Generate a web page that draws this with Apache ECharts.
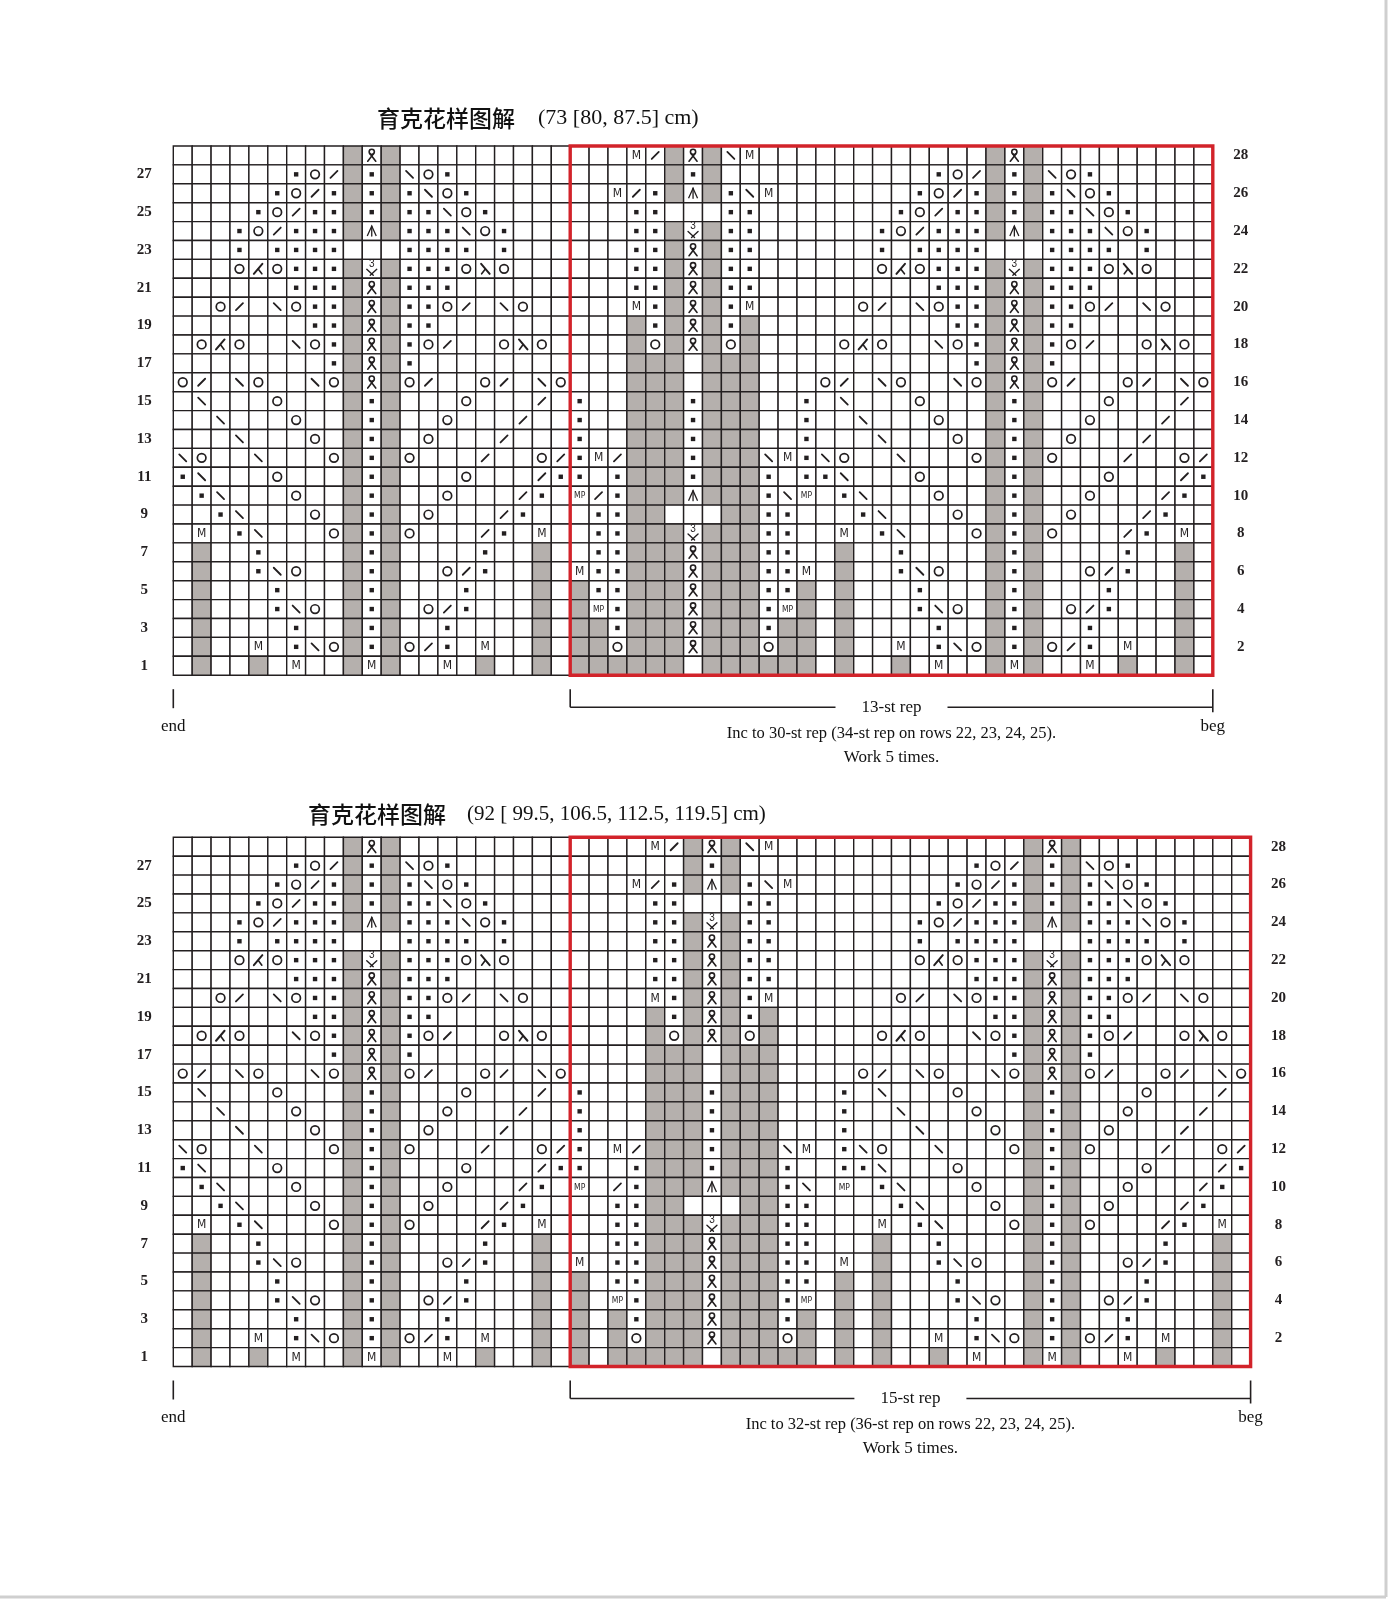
<!DOCTYPE html>
<html>
<head>
<meta charset="utf-8">
<script src="https://cdn.jsdelivr.net/npm/echarts@6/dist/echarts.min.js"></script>
<style>
html,body{margin:0;padding:0;background:#fff}
#chart{width:1389px;height:1609px}
</style>
</head>
<body>
<div id="chart"></div>
<script>
// chart rows, listed from row 28 (top) down to row 1
// . blank  G no stitch  p purl  o yo  f k2tog  b ssk  M m1  P mp
// A cdd  K k3tog  S sssk  R twisted  3 three-in-one
const rowNumbers = ['1','2','3','4','5','6','7','8','9','10','11','12','13','14',
  '15','16','17','18','19','20','21','22','23','24','25','26','27','28'];

const motifB = [
  '.........GRG.........',
  '......pofGpGbop......',
  '.....pofpGpGpbop.....',
  '....pofppGpGppbop....',
  '...pofpppGAGpppbop...',
  '...p.pppp...pppp.p...',
  '...oKopppG3GpppoSo...',
  '......pppGRGppp......',
  '..of.boppGRGppof.bo..',
  '.......ppGRGpp.......',
  '.oKo..bopGRGpof..oSo.',
  '........pGRGp........',
  'of.bo..boGRGof..of.bo',
  '.b...o...GpG...o...f.',
  '..b...o..GpG..o...f..',
  '...b...o.GpG.o...f...',
  'bo..b...oGpGo...f..of',
  'pb...o...GpG...o...fp',
  '.pb...o..GpG..o...fp.',
  '..pb...o.GpG.o...fp..',
  '.M.pb...oGpGo...fp.M.',
  '.G..p....GpG....p..G.',
  '.G..pbo..GpG..ofp..G.',
  '.G...p...GpG...p...G.',
  '.G...pbo.GpG.ofp...G.',
  '.G....p..GpG..p....G.',
  '.G..M.pboGpGofp.M..G.',
  '.G..G.M..GMG..M.G..G.'
];

const motifA13 = [
  '...MfGRGbM...',
  '.....GpG.....',
  '..MfpGAGpbM..',
  '...pp...pp...',
  '...ppG3Gpp...',
  '...ppGRGpp...',
  '...ppGRGpp...',
  '...ppGRGpp...',
  '...MpGRGpM...',
  '...GpGRGpG...',
  '...GoGRGoG...',
  '...GGG.GGG...',
  '...GGG.GGG...',
  'p..GGGpGGG..p',
  'p..GGGpGGG..p',
  'p..GGGpGGG..p',
  'pMfGGGpGGGbMp',
  'p.pGGGpGGGp.p',
  'PfpGGGAGGGpbP',
  '.ppGG...GGpp.',
  '.ppGGG3GGGpp.',
  '.ppGGGRGGGpp.',
  'MppGGGRGGGppM',
  'GppGGGRGGGppG',
  'GPpGGGRGGGpPG',
  'GGpGGGRGGGpGG',
  'GGoGGGRGGGoGG',
  'GGGGGG.GGGGGG'
];

const motifA15 = [
  '....MfGRGbM....',
  '......GpG......',
  '...MfpGAGpbM...',
  '....pp...pp....',
  '....ppG3Gpp....',
  '....ppGRGpp....',
  '....ppGRGpp....',
  '....ppGRGpp....',
  '....MpGRGpM....',
  '....GpGRGpG....',
  '....GoGRGoG....',
  '....GGG.GGG....',
  '....GGG.GGG....',
  'p...GGGpGGG...p',
  'p...GGGpGGG...p',
  'p...GGGpGGG...p',
  'p.MfGGGpGGGbM.p',
  'p..pGGGpGGGp..p',
  'P.fpGGGAGGGpb.P',
  '..ppGG...GGpp..',
  '..ppGGG3GGGpp..',
  '..ppGGGRGGGpp..',
  'M.ppGGGRGGGpp.M',
  'G.ppGGGRGGGpp.G',
  'G.PpGGGRGGGpP.G',
  'G.GpGGGRGGGpG.G',
  'G.GoGGGRGGGoG.G',
  'G.GGGGG.GGGGG.G'
];

const titleCn = '育克花样图解';
const topSizes = '(73 [80, 87.5] cm)';
const bottomSizes = '(92 [ 99.5, 106.5, 112.5, 119.5] cm)';
const topRepLabel = '13-st rep';
const bottomRepLabel = '15-st rep';
const topNote = 'Inc to 30-st rep (34-st rep on rows 22, 23, 24, 25).';
const bottomNote = 'Inc to 32-st rep (36-st rep on rows 22, 23, 24, 25).';
const workNote = 'Work 5 times.';

const INK = '#231f20';
const GRAY = '#b5b0ad';
const RED = '#d2232a';
const CELL = 18.9;
const LEFT = 173.3;
const TOP1 = 146;
const TOP2 = 837.3;
const SERIF = '"Liberation Serif", "DejaVu Serif", serif';

function buildRows(parts) {
  return parts[0].map(function (_, i) {
    return parts.map(function (p) { return p[i]; }).join('');
  });
}

function cellData(rows) {
  const data = [], codes = [];
  rows.forEach(function (line, i) {
    const y = rows.length - 1 - i;
    for (let x = 0; x < line.length; x++) {
      data.push([x, y]);
      codes.push(line[x]);
    }
  });
  return {data: data, codes: codes};
}

const topRows = buildRows([motifB, motifA13, motifB]);
const bottomRows = buildRows([motifB, motifA15, motifB]);
const topCells = cellData(topRows);
const bottomCells = cellData(bottomRows);
const topRep = [motifB[0].length, topRows[0].length - 1];
const bottomRep = [motifB[0].length, bottomRows[0].length - 1];

function glyph(ch, cx, cy) {
  const ln = function (x1, y1, x2, y2, lw) {
    return {type: 'line', shape: {x1: cx + x1, y1: cy + y1, x2: cx + x2, y2: cy + y2},
      style: {stroke: INK, lineWidth: lw || 1.8, lineCap: 'round'}};
  };
  const tx = function (t, size, dy, fam) {
    return {type: 'text', style: {text: t, x: cx, y: cy + (dy || 0), align: 'center', verticalAlign: 'middle',
      fontSize: size, fontFamily: fam || '"DejaVu Sans Condensed", "DejaVu Sans", sans-serif', fill: INK}};
  };
  switch (ch) {
    case 'p': return [{type: 'rect', shape: {x: cx - 2.2, y: cy - 2.2, width: 4.4, height: 4.4}, style: {fill: INK}}];
    case 'o': return [{type: 'circle', shape: {cx: cx, cy: cy, r: 4.3}, style: {fill: 'none', stroke: INK, lineWidth: 1.7}}];
    case 'f': return [ln(-3.5, 3.5, 3.5, -3.5)];
    case 'b': return [ln(-3.5, -3.5, 3.5, 3.5)];
    case 'M': return [tx('M', 12, 0.5)];
    case 'P': return [tx('MP', 8.5, 0.5)];
    case 'A': return [{type: 'polyline', shape: {points: [[cx - 4.5, cy + 5], [cx, cy - 5], [cx + 4.5, cy + 5]]},
      style: {stroke: INK, lineWidth: 1.3, fill: 'none'}}, ln(0, -5, 0, 5, 1.3)];
    case 'K': return [ln(4, -5, -4.5, 5, 2), ln(0, 0.3, 3.5, 5, 1.6)];
    case 'S': return [ln(-4, -5, 4.5, 5, 2), ln(0, 0.3, -3.5, 5, 1.6)];
    case 'R': return [{type: 'circle', shape: {cx: cx, cy: cy - 3.6, r: 2.6}, style: {fill: 'none', stroke: INK, lineWidth: 1.6}},
      ln(-1.6, -1.4, 4, 5.8, 1.6), ln(1.6, -1.4, -4, 5.8, 1.6)];
    case '3': return [tx('3', 10, -4.5, '"Liberation Sans", sans-serif'), ln(-5, 0.5, 1.5, 6.5, 1.4), ln(5, 0.5, -1.5, 6.5, 1.4)];
  }
  return [];
}

function makeCells(codes) {
  return function (params, api) {
    const c = api.coord([api.value(0), api.value(1)]);
    const s = api.size([1, 1]);
    const ch = codes[params.dataIndex];
    const children = [{
      type: 'rect',
      shape: {x: c[0] - s[0] / 2, y: c[1] - s[1] / 2, width: s[0], height: s[1]},
      style: {fill: ch === 'G' ? GRAY : '#fff', stroke: INK, lineWidth: 1.4}
    }].concat(glyph(ch, c[0], c[1]));
    return {type: 'group', children: children};
  };
}

function makeRepBox(rep, nRows) {
  return function (params, api) {
    const a = api.coord([rep[0], nRows - 1]);
    const b = api.coord([rep[1], 0]);
    const s = api.size([1, 1]);
    return {type: 'rect',
      shape: {x: a[0] - s[0] / 2, y: a[1] - s[1] / 2, width: b[0] - a[0] + s[0], height: b[1] - a[1] + s[1]},
      style: {fill: 'none', stroke: RED, lineWidth: 3.4}};
  };
}

function yAxes(gridIndex) {
  const label = {interval: 0, fontFamily: SERIF, fontWeight: 'bold', fontSize: 15, color: INK, align: 'center'};
  const hidden = {axisLine: {show: false}, axisTick: {show: false}, splitLine: {show: false}};
  return [
    Object.assign({type: 'category', gridIndex: gridIndex, data: rowNumbers, position: 'left',
      axisLabel: Object.assign({margin: 29, formatter: function (v) { return (+v) % 2 ? v : ''; }}, label)}, hidden),
    Object.assign({type: 'category', gridIndex: gridIndex, data: rowNumbers, position: 'right',
      axisLabel: Object.assign({margin: 28, formatter: function (v) { return (+v) % 2 ? '' : v; }}, label)}, hidden)
  ];
}

function annotations(gridBottom, repRight, repLabel, note) {
  const repLeft = LEFT + topRep[0] * CELL;
  const mid = (repLeft + repRight) / 2;
  const line = function (x1, y1, x2, y2) {
    return {type: 'line', shape: {x1: x1, y1: y1, x2: x2, y2: y2}, style: {stroke: INK, lineWidth: 1.6}};
  };
  const text = function (t, x, y, size) {
    return {type: 'text', x: x, y: y, style: {text: t, align: 'center', verticalAlign: 'middle',
      fontFamily: SERIF, fontSize: size || 17, fill: '#111'}};
  };
  return [
    line(LEFT, gridBottom + 14, LEFT, gridBottom + 33),
    line(repLeft, gridBottom + 14, repLeft, gridBottom + 32),
    line(repLeft, gridBottom + 32, mid - 56, gridBottom + 32),
    line(mid + 56, gridBottom + 32, repRight, gridBottom + 32),
    line(repRight, gridBottom + 14, repRight, gridBottom + 37),
    text(repLabel, mid, gridBottom + 32),
    text('end', LEFT, gridBottom + 51),
    text('beg', repRight, gridBottom + 51),
    text(note, mid, gridBottom + 58, 16.5),
    text(workNote, mid, gridBottom + 82)
  ];
}

const topW = topRows[0].length * CELL;
const bottomW = bottomRows[0].length * CELL;
const gridH = rowNumbers.length * CELL;

const chart = echarts.init(document.getElementById('chart'), null, {renderer: 'canvas'});
const option = {
  animation: false,
  backgroundColor: '#fff',
  grid: [
    {left: LEFT, top: TOP1, width: topW, height: gridH, outerBoundsMode: 'none'},
    {left: LEFT, top: TOP2, width: bottomW, height: gridH, outerBoundsMode: 'none'}
  ],
  xAxis: [
    {type: 'category', gridIndex: 0, show: false, data: topRows[0].split('').map(function (_, i) { return i + 1; })},
    {type: 'category', gridIndex: 1, show: false, data: bottomRows[0].split('').map(function (_, i) { return i + 1; })}
  ],
  yAxis: yAxes(0).concat(yAxes(1)),
  series: [
    {type: 'custom', xAxisIndex: 0, yAxisIndex: 0, data: topCells.data, renderItem: makeCells(topCells.codes), z: 2, silent: true},
    {type: 'custom', xAxisIndex: 0, yAxisIndex: 0, data: [[topRep[0], 0]], renderItem: makeRepBox(topRep, rowNumbers.length), z: 5, silent: true},
    {type: 'custom', xAxisIndex: 1, yAxisIndex: 2, data: bottomCells.data, renderItem: makeCells(bottomCells.codes), z: 2, silent: true},
    {type: 'custom', xAxisIndex: 1, yAxisIndex: 2, data: [[bottomRep[0], 0]], renderItem: makeRepBox(bottomRep, rowNumbers.length), z: 5, silent: true}
  ],
  graphic: [
    {type: 'text', x: 377, y: 118, style: {text: titleCn, verticalAlign: 'middle', fontFamily: '"Noto Sans CJK SC", sans-serif', fontSize: 23, fontWeight: 500, fill: '#111'}},
    {type: 'text', x: 538, y: 118, style: {text: topSizes, verticalAlign: 'middle', fontFamily: SERIF, fontSize: 22, fill: '#111'}},
    {type: 'text', x: 308, y: 814, style: {text: titleCn, verticalAlign: 'middle', fontFamily: '"Noto Sans CJK SC", sans-serif', fontSize: 23, fontWeight: 500, fill: '#111'}},
    {type: 'text', x: 467, y: 814, style: {text: bottomSizes, verticalAlign: 'middle', fontFamily: SERIF, fontSize: 21, fill: '#111'}},
    {type: 'line', shape: {x1: 1386, y1: 0, x2: 1386, y2: 1597}, style: {stroke: '#cfcfcf', lineWidth: 3}},
    {type: 'line', shape: {x1: 0, y1: 1597, x2: 1386, y2: 1597}, style: {stroke: '#cfcfcf', lineWidth: 3}}
  ].concat(annotations(TOP1 + gridH, LEFT + topW, topRepLabel, topNote))
   .concat(annotations(TOP2 + gridH, LEFT + bottomW, bottomRepLabel, bottomNote))
};
chart.setOption(option);
</script>
</body>
</html>
